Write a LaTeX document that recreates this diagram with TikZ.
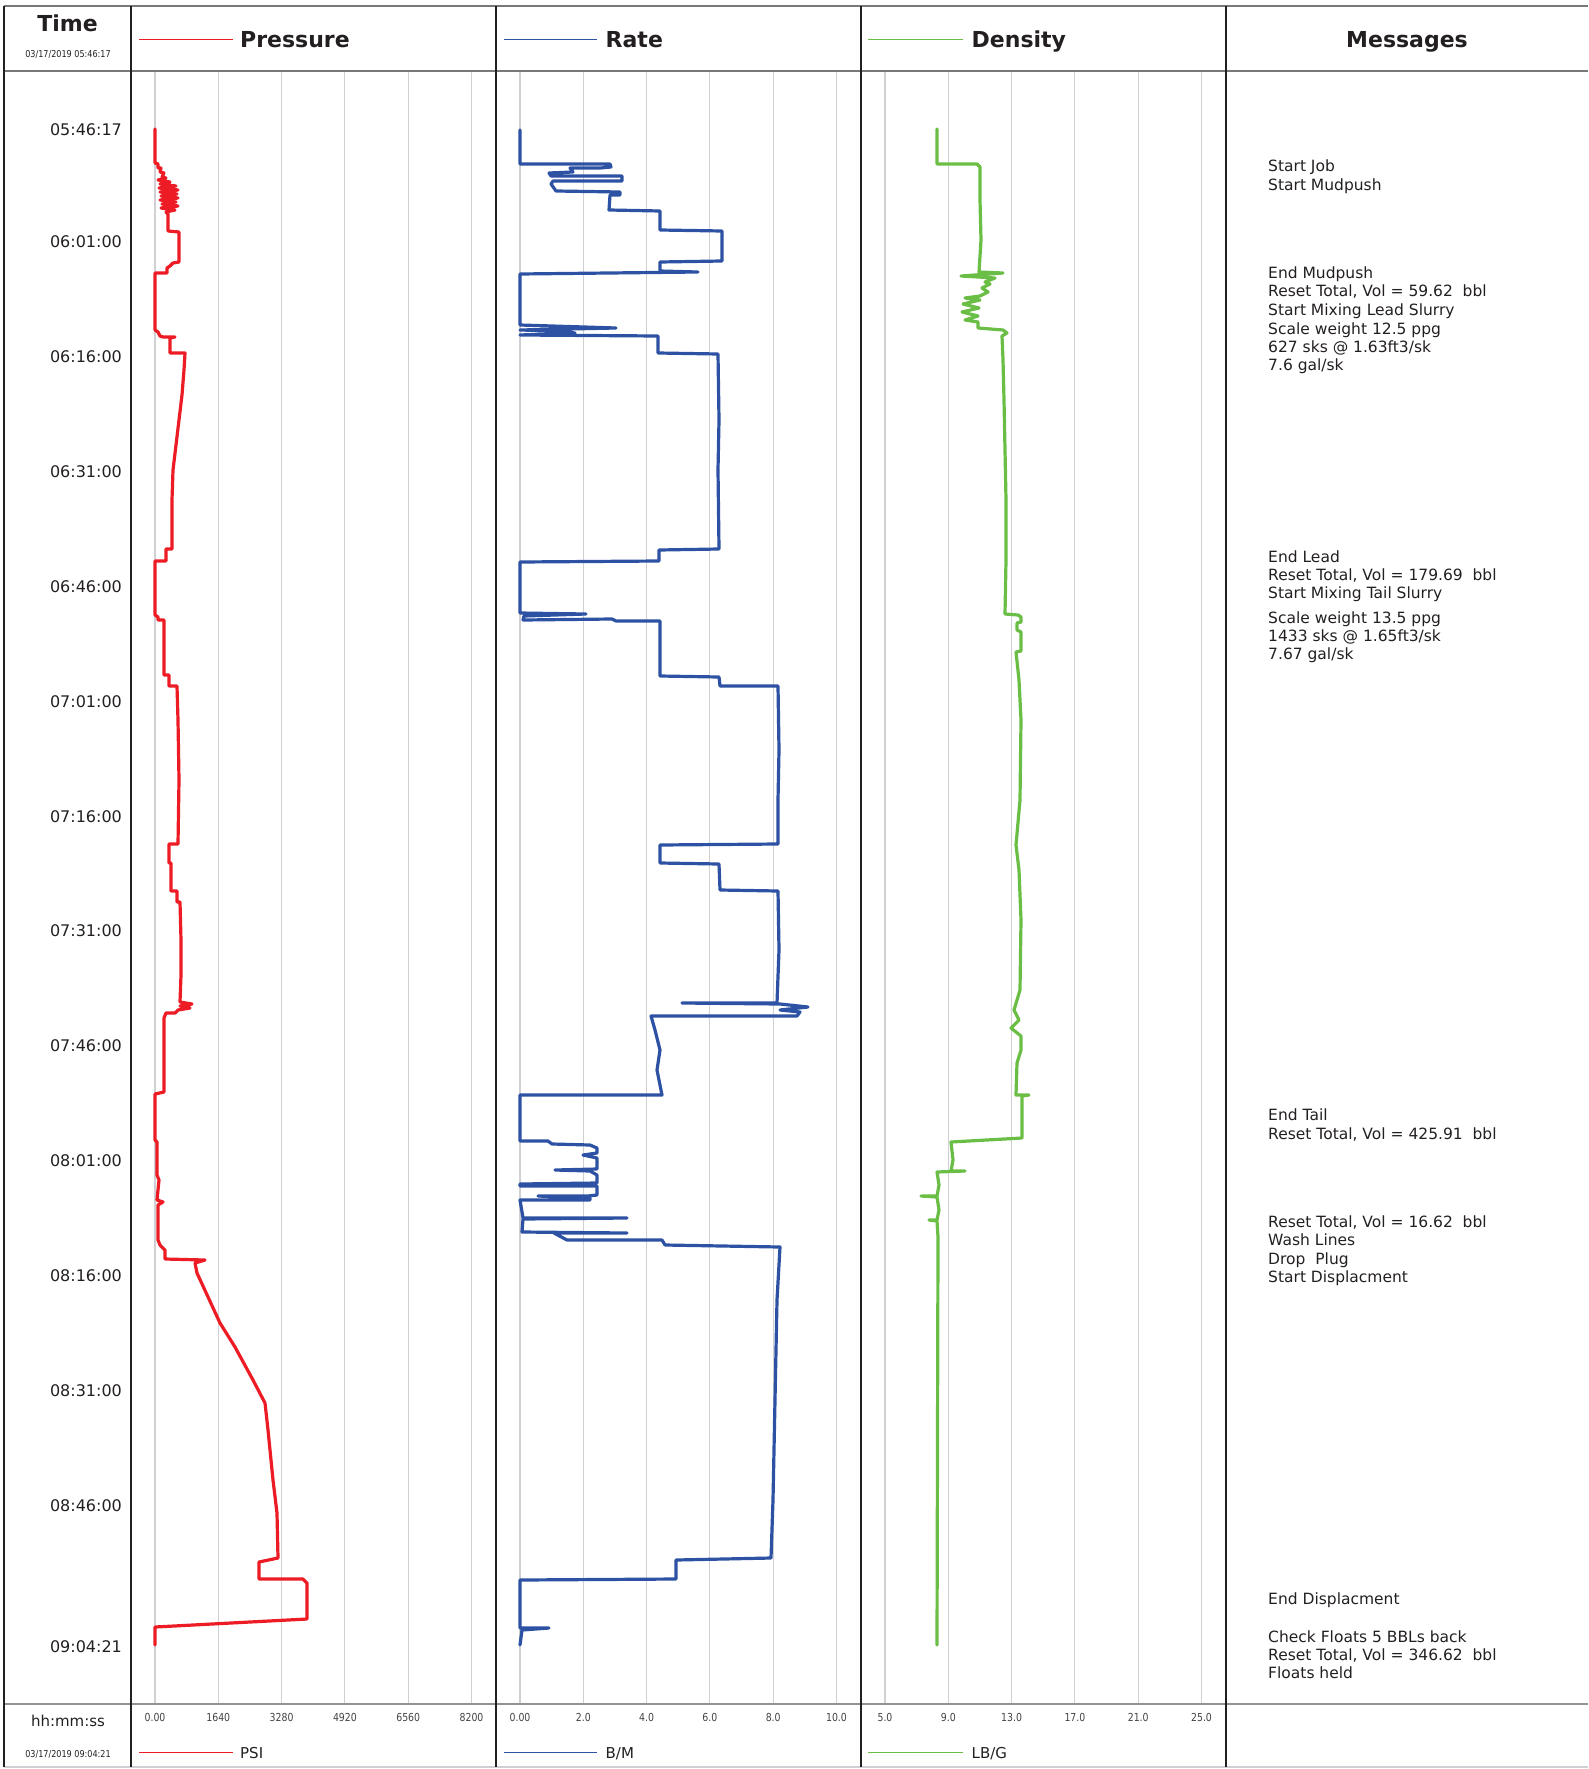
\documentclass[tikz,border=0pt]{standalone}
\usepackage{fontspec}
\setmainfont{DejaVu Sans}
\newfontfamily\narrowfont[FakeStretch=0.85]{DejaVu Sans}
\usetikzlibrary{positioning}
\definecolor{psired}{RGB}{237,28,36}
\definecolor{rateblue}{RGB}{46,82,163}
\definecolor{densgreen}{RGB}{106,190,69}
\definecolor{gridgray}{RGB}{208,208,212}
\definecolor{inkgray}{RGB}{35,31,32}
\definecolor{rulegray}{RGB}{120,120,120}

\tikzset{
	gridline/.style={gridgray, line width=1.1pt},
	divider/.style={inkgray, line width=1.4pt},
	trace/.style={line width=3.2pt, line join=round, line cap=round},
	legendline/.style={line width=0.9pt},
	header/.style={font=\fontsize{22}{26}\selectfont\bfseries, text=inkgray, inner sep=0pt},
	msg/.style={font=\fontsize{15.5}{18}\selectfont, text=inkgray, inner sep=0pt, anchor=base west},
	timelabel/.style={font=\fontsize{16}{18}\selectfont, text=inkgray, inner sep=0pt},
	datelabel/.style={font=\narrowfont\fontsize{9.5}{11}\selectfont, text=inkgray, inner sep=0pt},
	ticklabel/.style={font=\narrowfont\fontsize{11}{13}\selectfont, text=inkgray!85, inner sep=0pt},
	unitlabel/.style={font=\fontsize{15}{18}\selectfont, text=inkgray, inner sep=0pt, anchor=base west}
}
\def\colP{131}
\def\colR{496}
\def\colD{861}
\def\colM{1226}

\begin{document}
\begin{tikzpicture}[x=1pt, y=-1pt]
	\useasboundingbox (0,0) rectangle (1588,1769);

	% grid of the three chart columns
	\foreach \c in {\colP,\colR,\colD}{
		\foreach \k in {0,...,5}{
			\draw[gridline] (\c+24+63.3*\k,72) -- (\c+24+63.3*\k,1704);
		}
	}

	% frame
	\draw[rulegray, line width=2pt] (4,6.5) -- (1588,6.5);
	\draw[rulegray, line width=2pt] (4,71.5) -- (1588,71.5);
	\draw[rulegray!80, line width=1.6pt] (4,1704) -- (1588,1704);
	\draw[gridgray, line width=1.6pt] (4,1767) -- (1588,1767);
	\foreach \c in {4,\colP,\colR,\colD,\colM}{
		\draw[divider] (\c,6.5) -- (\c,1767);
	}

	% headers
	\node[header, anchor=base] (hTime) at (67.5,32) {Time};
	\node[datelabel] (tStart) at (68,54) {03/17/2019 05:46:17};
	\coordinate (pLegA) at (139,39.5);
	\coordinate (pLegB) at (233,39.5);
	\draw[legendline, psired] (pLegA) -- (pLegB);
	\node[header, anchor=base west] (hPress) at (240,47.5) {Pressure};
	\coordinate (rLegA) at (504,39.5);
	\coordinate (rLegB) at (597,39.5);
	\draw[legendline, rateblue] (rLegA) -- (rLegB);
	\node[header, anchor=base west] (hRate) at (605.5,47.5) {Rate};
	\coordinate (dLegA) at (868,39.5);
	\coordinate (dLegB) at (963,39.5);
	\draw[legendline, densgreen] (dLegA) -- (dLegB);
	\node[header, anchor=base west] (hDens) at (971.5,47.5) {Density};
	\node[header, anchor=base] (hMsg) at (1407,47.5) {Messages};

	% time axis
	\foreach \t/\y in {05:46:17/130, 06:01:00/242, 06:16:00/357, 06:31:00/472, 06:46:00/587,
		07:01:00/702, 07:16:00/817, 07:31:00/931, 07:46:00/1046, 08:01:00/1161,
		08:16:00/1276, 08:31:00/1391, 08:46:00/1506, 09:04:21/1647}{
		\node[timelabel] (time\y) at (86,\y) {\t};
	}

	% footer
	\node[unitlabel, anchor=base] (fClock) at (68,1726) {hh:mm:ss};
	\node[datelabel] (tEnd) at (68,1754) {03/17/2019 09:04:21};
	\foreach \v [count=\k from 0] in {0.00,1640,3280,4920,6560,8200}{
		\node[ticklabel] (psiTick\k) at (\colP+24+63.3*\k,1717) {\v};
	}
	\foreach \v [count=\k from 0] in {0.00,2.0,4.0,6.0,8.0,10.0}{
		\node[ticklabel] (bmTick\k) at (\colR+24+63.3*\k,1717) {\v};
	}
	\foreach \v [count=\k from 0] in {5.0,9.0,13.0,17.0,21.0,25.0}{
		\node[ticklabel] (lbgTick\k) at (\colD+24+63.3*\k,1717) {\v};
	}
	\coordinate (pUnitA) at (139,1752);
	\coordinate (pUnitB) at (233,1752);
	\draw[legendline, psired] (pUnitA) -- (pUnitB);
	\node[unitlabel] (uPsi) at (240,1758) {PSI};
	\coordinate (rUnitA) at (504,1752);
	\coordinate (rUnitB) at (597,1752);
	\draw[legendline, rateblue] (rUnitA) -- (rUnitB);
	\node[unitlabel] (uBm) at (605.5,1758) {B/M};
	\coordinate (dUnitA) at (868,1752);
	\coordinate (dUnitB) at (963,1752);
	\draw[legendline, densgreen] (dUnitA) -- (dUnitB);
	\node[unitlabel] (uLbg) at (971.5,1758) {LB/G};

	% pressure
	\draw[trace, psired] plot coordinates {(155,129) (155,163) (158,164) (158,168) (161,168) (160,172)
		(164,173) (162,177) (166,178) (158,180) (170,182) (160,184) (176,186) (159,188) (178,190)
		(160,192) (177,194) (161,196) (178,198) (160,200) (176,202) (162,204) (178,206) (161,208)
		(175,210) (166,212) (168,214) (168,231) (179,232) (179,262) (173,263) (170,266) (167,268)
		(167,273) (155,273) (155,330) (158,332) (160,336) (163,337) (175,337) (170,338) (170,353)
		(185,353) (184,370) (182,395) (179,420) (176,445) (173,470) (172,500) (172,549) (166,549)
		(166,561) (155,561) (155,615) (158,617) (158,620) (164,620) (164,675) (169,675) (169,686)
		(177,686) (178,720) (179,780) (178,844) (169,844) (169,863) (171,863) (171,891) (177,891)
		(177,902) (180,902) (181,940) (181,975) (180,1002) (192,1004) (180,1006) (190,1008)
		(178,1010) (175,1013) (166,1013) (164,1018) (164,1092) (155,1094) (155,1140) (157,1142)
		(157,1175) (159,1180) (157,1200) (163,1202) (158,1205) (158,1240) (160,1245) (163,1248)
		(165,1250) (165,1259) (205,1260) (195,1263) (197,1273) (220,1323) (235,1347) (253,1380)
		(265,1403) (268,1430) (273,1480) (277,1513) (278,1558) (259,1562) (259,1579) (303,1579)
		(307,1583) (307,1619) (155,1627) (155,1645)};

	% rate
	\draw[trace, rateblue] plot coordinates {(520,130) (520,164) (610,164) (611,167) (600,168)
		(570,168) (573,172) (549,173) (551,176) (622,176) (622,181) (553,181) (551,184) (556,191)
		(620,192) (620,195) (610,195) (609,210) (660,211) (660,230) (722,231) (722,261) (660,262)
		(660,271) (698,272) (520,274) (520,325) (616,328) (520,330) (558,331) (575,333) (520,335)
		(658,336) (658,353) (718,354) (719,420) (718,470) (719,549) (659,550) (659,561) (520,562)
		(520,613) (586,614) (524,616) (523,620) (612,619) (616,621) (660,621) (660,676) (719,677)
		(720,686) (778,686) (779,750) (778,800) (778,844) (660,845) (660,863) (719,864) (720,890)
		(778,891) (779,950) (777,1003) (682,1003) (780,1004) (808,1007) (780,1010) (800,1012)
		(797,1016) (651,1016) (655,1030) (660,1050) (657,1070) (662,1095) (520,1095) (520,1141)
		(548,1141) (552,1144) (590,1145) (597,1148) (597,1153) (583,1155) (597,1158) (597,1169)
		(555,1170) (590,1171) (597,1175) (597,1183) (520,1184) (520,1186) (597,1186) (597,1195)
		(588,1196) (538,1196) (590,1198) (590,1200) (520,1200) (523,1218) (627,1218) (523,1219)
		(522,1232) (627,1233) (554,1233) (567,1240) (662,1240) (665,1245) (780,1247) (777,1300)
		(775,1400) (773,1500) (771,1558) (676,1560) (676,1579) (520,1580) (520,1628) (549,1628)
		(522,1630) (520,1645)};

	% density
	\draw[trace, densgreen] plot coordinates {(937,129) (937,164) (977,164) (980,167) (980,200)
		(981,240) (979,272) (1003,273) (961,276) (995,278) (985,282) (990,284) (982,288) (988,292)
		(980,296) (965,298) (980,300) (963,304) (979,308) (962,312) (978,316) (965,320) (978,322)
		(978,328) (1003,330) (1007,333) (1002,336) (1003,360) (1004,400) (1005,450) (1006,500)
		(1006,560) (1005,614) (1018,615) (1021,617) (1021,622) (1017,623) (1017,630) (1021,632)
		(1021,651) (1016,652) (1019,680) (1021,720) (1020,800) (1016,845) (1019,870) (1021,920)
		(1020,990) (1014,1010) (1019,1020) (1011,1028) (1021,1036) (1021,1050) (1017,1063)
		(1016,1095) (1029,1095) (1022,1096) (1022,1138) (951,1142) (953,1160) (951,1171)
		(965,1171) (937,1172) (939,1185) (937,1196) (921,1196) (937,1197) (939,1210) (937,1220)
		(929,1220) (937,1221) (938,1237) (937,1645)};

	% messages
	\node[msg] (mStartJob) at (1268,171.7) {Start Job};
	\node[msg] (mStartPush) at (1268,190.7) {Start Mudpush};
	\node[msg] (mEndPush) at (1268,278.3) {End Mudpush};
	\node[msg] (mResetA) at (1268,296.7) {Reset Total, Vol = 59.62\ \ bbl};
	\node[msg] (mLeadMix) at (1268,315.7) {Start Mixing Lead Slurry};
	\node[msg] (mLeadScale) at (1268,334) {Scale weight 12.5 ppg};
	\node[msg] (mLeadSks) at (1268,352) {627 sks @ 1.63ft3/sk};
	\node[msg] (mLeadGal) at (1268,370) {7.6 gal/sk};
	\node[msg] (mEndLead) at (1268,562.7) {End Lead};
	\node[msg] (mResetB) at (1268,580.7) {Reset Total, Vol = 179.69\ \ bbl};
	\node[msg] (mTailMix) at (1268,598.3) {Start Mixing Tail Slurry};
	\node[msg] (mTailScale) at (1268,623.3) {Scale weight 13.5 ppg};
	\node[msg] (mTailSks) at (1268,641.7) {1433 sks @ 1.65ft3/sk};
	\node[msg] (mTailGal) at (1268,659.3) {7.67 gal/sk};
	\node[msg] (mEndTail) at (1268,1120) {End Tail};
	\node[msg] (mResetC) at (1268,1139) {Reset Total, Vol = 425.91\ \ bbl};
	\node[msg] (mResetD) at (1268,1227) {Reset Total, Vol = 16.62\ \ bbl};
	\node[msg] (mWash) at (1268,1245) {Wash Lines};
	\node[msg] (mDrop) at (1268,1264) {Drop\ \ Plug};
	\node[msg] (mStartDisp) at (1268,1282) {Start Displacment};
	\node[msg] (mEndDisp) at (1268,1604) {End Displacment};
	\node[msg] (mCheck) at (1268,1642) {Check Floats 5 BBLs back};
	\node[msg] (mResetE) at (1268,1660.7) {Reset Total, Vol = 346.62\ \ bbl};
	\node[msg] (mHeld) at (1268,1678) {Floats held};
\end{tikzpicture}
\end{document}
